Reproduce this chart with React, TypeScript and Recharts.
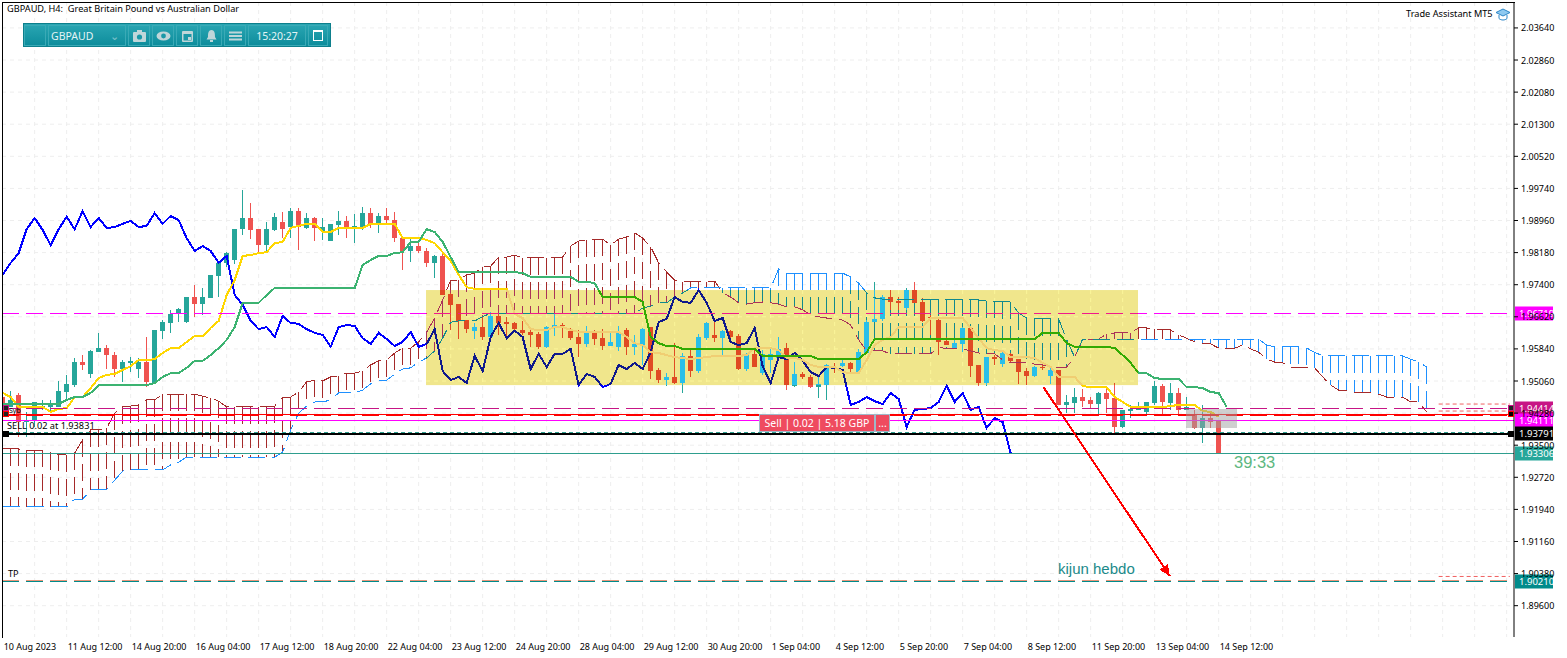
import React from 'react';
import { ComposedChart, Bar, Line, XAxis, YAxis, CartesianGrid, ReferenceLine, ReferenceArea } from 'recharts';

// ---------- values ----------
const opens = [1.9467,1.9443,1.9472,1.9406,1.9411,1.9443,1.9443,1.9443,1.9479,1.9496,1.9552,1.9523,1.9576,1.9586,1.9569,1.9535,1.9550,1.9535,1.9552,1.9501,1.9628,1.9647,1.9669,1.9649,1.9710,1.9693,1.9708,1.9761,1.9793,1.9800,1.9875,1.9902,1.9875,1.9836,1.9873,1.9892,1.9880,1.9919,1.9878,1.9902,1.9871,1.9846,1.9885,1.9895,1.9880,1.9880,1.9914,1.9888,1.9907,1.9897,1.9853,1.9822,1.9834,1.9822,1.9793,1.9810,1.9717,1.9693,1.9654,1.9628,1.9637,1.9613,1.9664,1.9649,1.9647,1.9630,1.9625,1.9620,1.9589,1.9637,1.9642,1.9628,1.9613,1.9596,1.9623,1.9610,1.9591,1.9589,1.9630,1.9589,1.9593,1.9637,1.9533,1.9508,1.9516,1.9501,1.9567,1.9530,1.9610,1.9618,1.9610,1.9628,1.9615,1.9535,1.9572,1.9525,1.9557,1.9562,1.9586,1.9494,1.9523,1.9516,1.9491,1.9496,1.9538,1.9542,1.9550,1.9528,1.9574,1.9649,1.9657,1.9710,1.9700,1.9683,1.9727,1.9698,1.9662,1.9654,1.9603,1.9584,1.9596,1.9635,1.9545,1.9501,1.9564,1.9547,1.9572,1.9559,1.9530,1.9518,1.9540,1.9518,1.9533,1.9448,1.9452,1.9467,1.9460,1.9450,1.9477,1.9465,1.9394,1.9433,1.9436,1.9431,1.9452,1.9494,1.9452,1.9477,1.9436,1.9426,1.9392,1.9416,1.9409];
const closes = [1.9443,1.9460,1.9406,1.9411,1.9455,1.9445,1.9450,1.9482,1.9499,1.9552,1.9545,1.9579,1.9586,1.9569,1.9535,1.9552,1.9555,1.9552,1.9504,1.9630,1.9649,1.9669,1.9681,1.9710,1.9693,1.9710,1.9764,1.9793,1.9817,1.9875,1.9902,1.9873,1.9836,1.9875,1.9905,1.9875,1.9919,1.9880,1.9902,1.9878,1.9880,1.9888,1.9895,1.9880,1.9883,1.9914,1.9888,1.9907,1.9897,1.9853,1.9822,1.9834,1.9822,1.9793,1.9810,1.9715,1.9691,1.9652,1.9632,1.9637,1.9613,1.9664,1.9647,1.9645,1.9632,1.9623,1.9618,1.9589,1.9637,1.9642,1.9640,1.9610,1.9596,1.9623,1.9608,1.9591,1.9601,1.9625,1.9589,1.9596,1.9632,1.9530,1.9508,1.9516,1.9501,1.9567,1.9530,1.9613,1.9647,1.9610,1.9628,1.9613,1.9535,1.9572,1.9540,1.9572,1.9572,1.9584,1.9496,1.9523,1.9516,1.9491,1.9499,1.9545,1.9535,1.9550,1.9535,1.9576,1.9649,1.9657,1.9710,1.9698,1.9696,1.9727,1.9696,1.9652,1.9659,1.9601,1.9593,1.9598,1.9635,1.9542,1.9501,1.9564,1.9559,1.9574,1.9555,1.9528,1.9518,1.9540,1.9538,1.9533,1.9448,1.9455,1.9467,1.9457,1.9450,1.9477,1.9462,1.9394,1.9436,1.9438,1.9440,1.9455,1.9494,1.9455,1.9477,1.9436,1.9443,1.9392,1.9416,1.9406,1.9331];
const highs = [1.9467,1.9482,1.9477,1.9431,1.9455,1.9460,1.9460,1.9506,1.9521,1.9562,1.9569,1.9581,1.9623,1.9593,1.9576,1.9557,1.9564,1.9562,1.9613,1.9630,1.9654,1.9679,1.9683,1.9710,1.9739,1.9732,1.9764,1.9793,1.9819,1.9875,1.9970,1.9939,1.9875,1.9892,1.9914,1.9917,1.9926,1.9926,1.9914,1.9905,1.9902,1.9888,1.9919,1.9907,1.9912,1.9929,1.9926,1.9914,1.9926,1.9917,1.9856,1.9856,1.9849,1.9829,1.9812,1.9817,1.9720,1.9693,1.9654,1.9647,1.9662,1.9674,1.9671,1.9662,1.9649,1.9652,1.9630,1.9625,1.9640,1.9671,1.9647,1.9635,1.9630,1.9640,1.9630,1.9632,1.9623,1.9640,1.9635,1.9618,1.9635,1.9637,1.9538,1.9525,1.9598,1.9574,1.9581,1.9620,1.9649,1.9659,1.9630,1.9630,1.9620,1.9574,1.9589,1.9581,1.9586,1.9613,1.9598,1.9552,1.9528,1.9521,1.9521,1.9547,1.9550,1.9557,1.9552,1.9584,1.9654,1.9747,1.9715,1.9727,1.9710,1.9732,1.9747,1.9708,1.9666,1.9659,1.9613,1.9610,1.9637,1.9635,1.9545,1.9564,1.9569,1.9576,1.9574,1.9559,1.9538,1.9542,1.9545,1.9540,1.9533,1.9472,1.9489,1.9486,1.9467,1.9479,1.9494,1.9501,1.9436,1.9448,1.9455,1.9455,1.9506,1.9499,1.9501,1.9489,1.9467,1.9436,1.9448,1.9428,1.9409];
const lows = [1.9443,1.9443,1.9370,1.9370,1.9394,1.9436,1.9428,1.9443,1.9460,1.9491,1.9533,1.9513,1.9576,1.9535,1.9516,1.9504,1.9528,1.9513,1.9491,1.9501,1.9608,1.9623,1.9649,1.9647,1.9662,1.9666,1.9708,1.9710,1.9783,1.9790,1.9861,1.9851,1.9819,1.9819,1.9871,1.9853,1.9853,1.9824,1.9875,1.9846,1.9849,1.9846,1.9861,1.9853,1.9841,1.9873,1.9878,1.9866,1.9890,1.9844,1.9776,1.9795,1.9817,1.9783,1.9756,1.9715,1.9630,1.9608,1.9623,1.9608,1.9606,1.9613,1.9618,1.9615,1.9625,1.9618,1.9589,1.9584,1.9586,1.9615,1.9610,1.9606,1.9564,1.9589,1.9593,1.9581,1.9591,1.9579,1.9569,1.9569,1.9545,1.9511,1.9501,1.9494,1.9499,1.9477,1.9516,1.9525,1.9606,1.9601,1.9569,1.9606,1.9533,1.9530,1.9540,1.9521,1.9525,1.9557,1.9484,1.9491,1.9511,1.9489,1.9465,1.9460,1.9525,1.9540,1.9528,1.9525,1.9574,1.9649,1.9652,1.9679,1.9679,1.9679,1.9696,1.9649,1.9618,1.9569,1.9593,1.9584,1.9576,1.9516,1.9494,1.9494,1.9545,1.9540,1.9552,1.9499,1.9496,1.9516,1.9533,1.9499,1.9448,1.9428,1.9428,1.9443,1.9440,1.9423,1.9428,1.9380,1.9392,1.9416,1.9436,1.9423,1.9448,1.9423,1.9436,1.9423,1.9436,1.9389,1.9355,1.9392,1.9328];
const tenkan = [1.9477,1.9467,1.9443,1.9443,1.9443,1.9443,1.9431,1.9438,1.9440,1.9467,1.9467,1.9489,1.9513,1.9521,1.9523,1.9533,1.9542,1.9557,1.9557,1.9559,1.9574,1.9586,1.9586,1.9601,1.9615,1.9615,1.9635,1.9652,1.9715,1.9751,1.9810,1.9812,1.9817,1.9819,1.9841,1.9844,1.9878,1.9883,1.9888,1.9888,1.9868,1.9868,1.9878,1.9878,1.9878,1.9878,1.9888,1.9888,1.9888,1.9888,1.9853,1.9853,1.9853,1.9849,1.9841,1.9819,1.9798,1.9764,1.9734,1.9730,1.9730,1.9730,1.9730,1.9730,1.9669,1.9659,1.9632,1.9630,1.9630,1.9637,1.9637,1.9630,1.9625,1.9625,1.9625,1.9625,1.9625,1.9625,1.9613,1.9598,1.9593,1.9576,1.9574,1.9569,1.9564,1.9562,1.9559,1.9562,1.9564,1.9567,1.9567,1.9567,1.9567,1.9569,1.9586,1.9586,1.9586,1.9581,1.9562,1.9562,1.9557,1.9545,1.9540,1.9540,1.9540,1.9528,1.9525,1.9525,1.9557,1.9593,1.9606,1.9613,1.9637,1.9637,1.9637,1.9637,1.9659,1.9659,1.9659,1.9659,1.9659,1.9635,1.9610,1.9586,1.9581,1.9579,1.9564,1.9564,1.9564,1.9562,1.9550,1.9540,1.9516,1.9516,1.9516,1.9494,1.9491,1.9491,1.9491,1.9467,1.9455,1.9443,1.9443,1.9443,1.9443,1.9443,1.9445,1.9448,1.9448,1.9448,1.9433,1.9431,1.9419];
const kijun = [1.9450,1.9450,1.9450,1.9450,1.9450,1.9450,1.9450,1.9450,1.9460,1.9467,1.9467,1.9477,1.9496,1.9496,1.9496,1.9496,1.9496,1.9496,1.9496,1.9501,1.9516,1.9525,1.9525,1.9538,1.9555,1.9555,1.9569,1.9586,1.9606,1.9637,1.9696,1.9696,1.9696,1.9715,1.9732,1.9732,1.9732,1.9732,1.9732,1.9732,1.9732,1.9732,1.9732,1.9732,1.9732,1.9788,1.9800,1.9810,1.9810,1.9817,1.9819,1.9844,1.9844,1.9875,1.9868,1.9844,1.9807,1.9771,1.9771,1.9771,1.9771,1.9771,1.9771,1.9771,1.9771,1.9768,1.9759,1.9759,1.9759,1.9759,1.9759,1.9759,1.9747,1.9747,1.9744,1.9710,1.9710,1.9710,1.9710,1.9710,1.9698,1.9613,1.9598,1.9591,1.9591,1.9584,1.9584,1.9584,1.9584,1.9584,1.9584,1.9584,1.9584,1.9584,1.9584,1.9567,1.9567,1.9567,1.9567,1.9567,1.9567,1.9567,1.9559,1.9559,1.9559,1.9559,1.9559,1.9559,1.9576,1.9608,1.9608,1.9608,1.9608,1.9608,1.9608,1.9608,1.9608,1.9608,1.9608,1.9608,1.9608,1.9608,1.9608,1.9608,1.9608,1.9608,1.9608,1.9608,1.9608,1.9608,1.9623,1.9623,1.9623,1.9598,1.9589,1.9589,1.9589,1.9589,1.9589,1.9586,1.9569,1.9550,1.9525,1.9525,1.9513,1.9511,1.9511,1.9511,1.9491,1.9491,1.9489,1.9479,1.9477,1.9443];
const chikou = [1.9764,1.9793,1.9817,1.9875,1.9902,1.9873,1.9836,1.9875,1.9905,1.9875,1.9919,1.9880,1.9902,1.9878,1.9880,1.9888,1.9895,1.9880,1.9883,1.9914,1.9888,1.9907,1.9897,1.9853,1.9822,1.9834,1.9822,1.9793,1.9810,1.9715,1.9691,1.9652,1.9632,1.9637,1.9613,1.9664,1.9647,1.9645,1.9632,1.9623,1.9618,1.9589,1.9637,1.9642,1.9640,1.9610,1.9596,1.9623,1.9608,1.9591,1.9601,1.9625,1.9589,1.9596,1.9632,1.9530,1.9508,1.9516,1.9501,1.9567,1.9530,1.9613,1.9647,1.9610,1.9628,1.9613,1.9535,1.9572,1.9540,1.9572,1.9572,1.9584,1.9496,1.9523,1.9516,1.9491,1.9499,1.9545,1.9535,1.9550,1.9535,1.9576,1.9649,1.9657,1.9710,1.9698,1.9696,1.9727,1.9696,1.9652,1.9659,1.9601,1.9593,1.9598,1.9635,1.9542,1.9501,1.9564,1.9559,1.9574,1.9555,1.9528,1.9518,1.9540,1.9538,1.9533,1.9448,1.9455,1.9467,1.9457,1.9450,1.9477,1.9462,1.9394,1.9436,1.9438,1.9440,1.9455,1.9494,1.9455,1.9477,1.9436,1.9443,1.9392,1.9416,1.9406,1.9331];
const senkouBrown = [1.9341,1.9341,1.9341,1.9338,1.9338,1.9338,1.9331,1.9328,1.9326,1.9331,1.9363,1.9387,1.9387,1.9392,1.9428,1.9443,1.9445,1.9448,1.9460,1.9460,1.9474,1.9474,1.9474,1.9474,1.9474,1.9469,1.9465,1.9457,1.9443,1.9443,1.9443,1.9443,1.9443,1.9443,1.9445,1.9467,1.9467,1.9479,1.9504,1.9508,1.9506,1.9516,1.9518,1.9525,1.9525,1.9530,1.9545,1.9555,1.9557,1.9574,1.9586,1.9586,1.9601,1.9625,1.9659,1.9703,1.9751,1.9751,1.9764,1.9768,1.9783,1.9785,1.9807,1.9807,1.9812,1.9805,1.9805,1.9805,1.9805,1.9805,1.9807,1.9834,1.9846,1.9849,1.9849,1.9851,1.9836,1.9851,1.9856,1.9866,1.9853,1.9832,1.9793,1.9771,1.9751,1.9747,1.9747,1.9747,1.9747,1.9749,1.9720,1.9710,1.9696,1.9693,1.9696,1.9698,1.9696,1.9693,1.9686,1.9686,1.9679,1.9666,1.9662,1.9659,1.9657,1.9654,1.9642,1.9606,1.9579,1.9579,1.9579,1.9572,1.9572,1.9572,1.9572,1.9572,1.9572,1.9589,1.9584,1.9584,1.9584,1.9579,1.9574,1.9572,1.9572,1.9557,1.9550,1.9550,1.9550,1.9547,1.9545,1.9540,1.9540,1.9540,1.9564,1.9606,1.9606,1.9608,1.9620,1.9623,1.9623,1.9623,1.9635,1.9635,1.9632,1.9632,1.9630,1.9618,1.9610,1.9601,1.9598,1.9596,1.9586,1.9586,1.9586,1.9593,1.9584,1.9576,1.9559,1.9552,1.9550,1.9540,1.9540,1.9538,1.9538,1.9516,1.9496,1.9484,1.9484,1.9477,1.9477,1.9477,1.9474,1.9467,1.9467,1.9467,1.9455,1.9455,1.9431];
const senkouBlue = [1.9200,1.9200,1.9200,1.9200,1.9200,1.9200,1.9200,1.9200,1.9200,1.9219,1.9219,1.9241,1.9243,1.9243,1.9265,1.9287,1.9290,1.9290,1.9290,1.9290,1.9290,1.9302,1.9309,1.9321,1.9321,1.9321,1.9321,1.9321,1.9321,1.9321,1.9321,1.9321,1.9321,1.9321,1.9321,1.9333,1.9387,1.9428,1.9445,1.9455,1.9455,1.9460,1.9477,1.9477,1.9477,1.9484,1.9499,1.9506,1.9508,1.9523,1.9535,1.9538,1.9552,1.9562,1.9579,1.9610,1.9649,1.9652,1.9652,1.9652,1.9662,1.9671,1.9671,1.9671,1.9671,1.9671,1.9671,1.9671,1.9671,1.9671,1.9671,1.9671,1.9671,1.9671,1.9671,1.9671,1.9671,1.9671,1.9671,1.9671,1.9683,1.9688,1.9696,1.9696,1.9710,1.9720,1.9732,1.9732,1.9732,1.9732,1.9732,1.9732,1.9732,1.9732,1.9732,1.9732,1.9732,1.9778,1.9768,1.9768,1.9768,1.9768,1.9768,1.9768,1.9768,1.9768,1.9759,1.9744,1.9720,1.9708,1.9705,1.9705,1.9705,1.9705,1.9705,1.9705,1.9705,1.9705,1.9705,1.9705,1.9705,1.9703,1.9703,1.9700,1.9700,1.9698,1.9698,1.9671,1.9659,1.9657,1.9657,1.9657,1.9657,1.9606,1.9564,1.9608,1.9608,1.9608,1.9608,1.9608,1.9608,1.9608,1.9608,1.9608,1.9608,1.9608,1.9608,1.9608,1.9608,1.9608,1.9608,1.9608,1.9608,1.9608,1.9608,1.9608,1.9608,1.9608,1.9593,1.9589,1.9589,1.9589,1.9589,1.9586,1.9576,1.9567,1.9567,1.9567,1.9567,1.9567,1.9567,1.9567,1.9567,1.9567,1.9567,1.9567,1.9559,1.9552,1.9540];
const xTickLabels = ['10 Aug 2023','11 Aug 12:00','14 Aug 20:00','16 Aug 04:00','17 Aug 12:00','18 Aug 20:00','22 Aug 04:00','23 Aug 12:00','24 Aug 20:00','28 Aug 04:00','29 Aug 12:00','30 Aug 20:00','1 Sep 04:00','4 Sep 12:00','5 Sep 20:00','7 Sep 04:00','8 Sep 12:00','11 Sep 20:00','13 Sep 04:00','14 Sep 12:00'];
const xTicks = [0,8,16,24,32,40,48,56,64,72,80,88,96,104,112,120,128,136,144,152];
const xGridValues = [4,8,12,16,20,24,28,32,36,40,44,48,52,56,60,64,68,72,76,80,84,88,92,96,100,104,108,112,116,120,124,128,132,136,140,144,148,152,156,160,164,168,172,176,180,184,188];
const yTicks = [2.0364,2.0286,2.0208,2.013,2.0052,1.9974,1.9896,1.9818,1.974,1.9662,1.9584,1.9506,1.9428,1.935,1.9272,1.9194,1.9116,1.9038,1.896];

const xDomain: [number, number] = [-0.084, 188.92];
const yDomain: [number, number] = [1.88839, 2.0427];
const zone = { x1: 52.92, x2: 141.92, top: 1.9727, bottom: 1.9496 };
const arrow = { x1: 130.1, y1: 1.9491, x2: 145.9, y2: 1.9032 };

// ---------- layout and palette ----------
const W = 1567, H = 658, L = 2, T = 2, PW = 1512, PH = 635;
const sx = (v: number) => L + ((v - xDomain[0]) / (xDomain[1] - xDomain[0])) * PW;
const sy = (v: number) => T + ((yDomain[1] - v) / (yDomain[1] - yDomain[0])) * PH;
const zx = sx(zone.x1), zw = sx(zone.x2) - zx, zy = sy(zone.top), zh = sy(zone.bottom) - zy;

const OUT = 'url(#outsideZone)', IN = 'url(#insideZone)';
const BULL = '#26A69A', BEAR = '#EF5350', BULLX = '#29BFE9', BEARX = '#E04A23';
const BROWN = '#A52A2A', BROWNX = '#AA3359', SKY = '#1E90FF', SKYX = '#11898C';
const UI = '"Noto Sans", Tahoma, sans-serif';
const DASH = '17 7';

const rows = Array.from({ length: 179 }, (_, i) => ({
  i,
  open: opens[i], high: highs[i], low: lows[i], close: closes[i],
  tenkan: tenkan[i], kijun: kijun[i], chikou: chikou[i],
  senkouBrown: senkouBrown[i], senkouBlue: senkouBlue[i],
}));

const Candle = (p: any) => {
  const d = p.payload;
  if (d == null || d.open == null || !(p.height >= 0)) return null;
  const cx = Math.round(p.x + p.width / 2);
  const span = d.high - d.low || 1;
  const at = (v: number) => p.y + ((d.high - v) / span) * p.height;
  const top = at(Math.max(d.open, d.close));
  const bot = at(Math.min(d.open, d.close));
  const up = d.close >= d.open;
  const draw = (color: string, clip: string) => (
    <g clipPath={clip} shapeRendering="crispEdges">
      <rect x={cx} y={p.y} width={1} height={Math.max(p.height, 1)} fill={color} />
      <rect x={cx - 2} y={top} width={5} height={Math.max(bot - top, 1)} fill={color} />
    </g>
  );
  return <g>{draw(up ? BULL : BEAR, OUT)}{draw(up ? BULLX : BEARX, IN)}</g>;
};

const Hatch = (p: any) => {
  const d = p.payload;
  if (d == null || !(p.height >= 0)) return null;
  const cx = Math.round(p.x + p.width / 2) + 0.5;
  const brownTop = d.senkouBrown > d.senkouBlue;
  const r = (stroke: string, clip: string) => (
    <g clipPath={clip}>
      <line x1={cx} x2={cx} y1={p.y} y2={p.y + p.height} stroke={stroke} strokeDasharray={DASH} shapeRendering="crispEdges" />
    </g>
  );
  return <g>{r(brownTop ? BROWN : SKY, OUT)}{r(brownTop ? BROWNX : SKYX, IN)}</g>;
};

const ZoneShape = (p: any) => {
  const gx = xGridValues.filter((v) => v > zone.x1 && v < zone.x2);
  const gy = yTicks.filter((v) => v < zone.top && v > zone.bottom);
  return (
    <g>
      <rect x={p.x} y={p.y} width={p.width} height={p.height} fill="#F0E68C" />
      {gx.map((v) => (
        <line key={v} x1={sx(v)} x2={sx(v)} y1={p.y} y2={p.y + p.height} stroke="#FBF59A" strokeDasharray="4 4" />
      ))}
      {gy.map((v) => (
        <line key={v} y1={sy(v)} y2={sy(v)} x1={p.x} x2={p.x + p.width} stroke="#FBF59A" strokeDasharray="4 4" />
      ))}
    </g>
  );
};

const level = (price: number, color: string, opts: { inside?: string; dash?: string; width?: number; tag?: string; tagColor?: string; }) => (
  <ReferenceLine
    key={`${price}-${color}-${opts.dash || ''}`}
    xAxisId="main"
    y={price}
    stroke={color}
    shape={(p: any) => {
      const a = Math.min(p.x1, p.x2), b = Math.max(p.x1, p.x2);
      const yy = Math.round(p.y1) + 0.5;
      const ln = (c: string, clip?: string) => (
        <g clipPath={clip}>
          <line x1={a} x2={b} y1={yy} y2={yy} stroke={c} strokeWidth={opts.width || 1} strokeDasharray={opts.dash} shapeRendering="crispEdges" />
        </g>
      );
      return (
        <g>
          {opts.inside ? <>{ln(color, OUT)}{ln(opts.inside, IN)}</> : ln(color)}
          {opts.tag ? (
            <g>
              <rect x={b + 1} y={yy - 7} width={38} height={14} fill={opts.tagColor || color} />
              <text x={b + 5} y={yy + 3.5} fontSize={9.5} fontFamily={UI} fill="#fff">{opts.tag}</text>
            </g>
          ) : null}
        </g>
      );
    }}
  />
);

const stub = (price: number, color: string) => (
  <ReferenceLine
    key={`stub-${price}`}
    xAxisId="main"
    segment={[{ x: 179.5, y: price }, { x: 188.4, y: price }]}
    stroke={color}
    strokeWidth={1}
    strokeDasharray="4 3"
  />
);

const Arrow = (p: any) => {
  const { x1, y1, x2, y2 } = p;
  const a = Math.atan2(y2 - y1, x2 - x1);
  const hx = (s: number) => x2 - 11 * Math.cos(a) + s * 5 * Math.sin(a);
  const hy = (s: number) => y2 - 11 * Math.sin(a) - s * 5 * Math.cos(a);
  return (
    <g shapeRendering="crispEdges">
      <line x1={x1} y1={y1} x2={x2} y2={y2} stroke="#FF0000" strokeWidth={2} />
      <polygon points={`${x2},${y2} ${hx(1)},${hy(1)} ${hx(-1)},${hy(-1)}`} fill="#FF0000" />
    </g>
  );
};

const two = (key: string, color: string, xor: string, width: number, dash?: string) => [
  <Line key={`${key}-o`} className="outz" dataKey={key} xAxisId="main" stroke={color} strokeWidth={width} strokeDasharray={dash} dot={false} activeDot={false} isAnimationActive={false} legendType="none" />,
  <Line key={`${key}-i`} className="inz" dataKey={key} xAxisId="main" stroke={xor} strokeWidth={width} strokeDasharray={dash} dot={false} activeDot={false} isAnimationActive={false} legendType="none" />,
];

const abs = (x: number, y: number, extra: React.CSSProperties = {}): React.CSSProperties => ({
  position: 'absolute', left: x, top: y, whiteSpace: 'pre', fontFamily: UI, fontSize: 9.2, color: '#000', lineHeight: 1, pointerEvents: 'none', ...extra,
});

const tbBtn = (x: number, w: number, child?: React.ReactNode) => (
  <div key={x} style={{ position: 'absolute', left: x, top: 1, width: w, height: 21, border: '1px solid #3aaab6', boxSizing: 'border-box', display: 'flex', alignItems: 'center', justifyContent: 'center', color: '#e4f4f6', fontFamily: UI, fontSize: 10.5 }}>{child}</div>
);

const ico = (children: React.ReactNode) => <svg width="15" height="14" viewBox="0 0 15 14" fill="#bfd6d9">{children}</svg>;

const Toolbar = () => (
  <div style={{ position: 'absolute', left: 23, top: 23, width: 308, height: 24, background: 'linear-gradient(#2aa6b3,#0d8c9b)', border: '1px solid #0d7f8c', boxSizing: 'border-box' }}>
    {tbBtn(0, 22)}
    {tbBtn(24, 78, <div style={{ width: '100%', paddingLeft: 2, display: 'flex', justifyContent: 'space-between', paddingRight: 6, boxSizing: 'border-box' }}><span>GBPAUD</span><span style={{ opacity: 0.5 }}>⌄</span></div>)}
    {tbBtn(104, 22, ico(<><rect x="1" y="3" width="13" height="10" rx="1" /><circle cx="7.5" cy="8" r="2.6" fill="#1a98a7" /><rect x="5" y="1" width="5" height="2" /></>))}
    {tbBtn(128, 22, ico(<><ellipse cx="7.5" cy="7" rx="7" ry="4.5" /><circle cx="7.5" cy="7" r="2.4" fill="#1a98a7" /></>))}
    {tbBtn(152, 22, ico(<><rect x="2" y="2" width="11" height="11" rx="1" /><rect x="3.5" y="5" width="8" height="6.5" fill="#1a98a7" /><rect x="8" y="8" width="3" height="3" /></>))}
    {tbBtn(176, 22, ico(<><path d="M7.5 1 C4 1 4 5 4 8 L2.5 10.5 H12.5 L11 8 C11 5 11 1 7.5 1Z" /><rect x="6" y="11" width="3" height="2" /></>))}
    {tbBtn(200, 22, ico(<><rect x="1" y="2.5" width="13" height="2" /><rect x="1" y="6" width="13" height="2" /><rect x="1" y="9.5" width="13" height="2" /></>))}
    {tbBtn(224, 58, '15:20:27')}
    {tbBtn(284, 20, <div style={{ width: 8, height: 8, border: '1.5px solid #fff', borderTopWidth: 2.5 }} />)}
  </div>
);

const square = (x: number, y: number, bg: string, edge: string) => (
  <div key={`${x}-${y}`} style={{ position: 'absolute', left: x, top: y, width: 6, height: 6, boxSizing: 'border-box', background: bg, border: `1px solid ${edge}`, pointerEvents: 'none' }} />
);

export default function App() {
  return (
    <div style={{ position: 'absolute', left: 0, top: 0, width: W, height: H, background: '#fff', overflow: 'hidden' }}>
      <style>{`.inz, .inz path { clip-path: url(#insideZone); } .outz, .outz path { clip-path: url(#outsideZone); } .inz path, .outz path { shape-rendering: crispEdges; }`}</style>
      <ComposedChart width={W} height={H} data={rows} margin={{ top: T, left: L, right: 0, bottom: 0 }}>
        <defs>
          <clipPath id="insideZone"><rect x={zx} y={zy} width={zw} height={zh} /></clipPath>
          <clipPath id="outsideZone"><path clipRule="evenodd" d={`M0 0H${W}V${H}H0Z M${zx} ${zy}H${zx + zw}V${zy + zh}H${zx}Z`} /></clipPath>
        </defs>
        <CartesianGrid stroke="#eeeeee" strokeDasharray="4 4" verticalValues={xGridValues} horizontalValues={yTicks} xAxisId="main" />
        <XAxis
          xAxisId="main" dataKey="i" type="number" domain={xDomain} allowDataOverflow ticks={xTicks} height={21} interval={0}
          stroke="#000" tickSize={4} tickLine={{ stroke: '#000' }} axisLine={{ stroke: '#000' }}
          tick={(p: any) => (
            <text x={p.x + 1} y={650} fontSize={9} fontFamily={UI} fill="#000">{xTickLabels[xTicks.indexOf(p.payload.value)]}</text>
          )}
        />
        <XAxis xAxisId="cloud" dataKey="i" type="number" domain={xDomain} allowDataOverflow hide />
        <YAxis
          orientation="right" width={53} type="number" domain={yDomain} allowDataOverflow ticks={yTicks} interval={0}
          stroke="#000" tickSize={4} tickLine={{ stroke: '#000' }} axisLine={{ stroke: '#000' }}
          tick={(p: any) => (
            <text x={p.x + 1} y={p.y + 3.5} fontSize={9} fontFamily={UI} fill="#000">{p.payload.value.toFixed(5)}</text>
          )}
        />
        <ReferenceArea xAxisId="main" x1={zone.x1} x2={zone.x2} y1={zone.bottom} y2={zone.top} shape={ZoneShape} />
        <Bar xAxisId="cloud" dataKey={(d: any) => [Math.min(d.senkouBrown, d.senkouBlue), Math.max(d.senkouBrown, d.senkouBlue)]} barSize={1} shape={Hatch} isAnimationActive={false} legendType="none" />
        {two('senkouBrown', BROWN, BROWNX, 1, DASH)}
        {two('senkouBlue', SKY, SKYX, 1, DASH)}
        <Bar xAxisId="main" dataKey={(d: any) => (d.high == null ? null : [d.low, d.high])} barSize={5} shape={Candle} isAnimationActive={false} legendType="none" />
        {two('chikou', '#0000FF', '#0F198C', 2)}
        {two('tenkan', '#FFD700', '#F0CE73', 2)}
        {two('kijun', '#3CB371', '#33AA02', 2)}
        {level(1.96719, '#FF00FF', { inside: '#F0198C', dash: DASH, tag: '1.96719' })}
        {level(1.94414, '#C71585', { dash: DASH, tag: '1.94414' })}
        {level(1.94253, '#FF0000', {})}
        {level(1.94253, '#FF0000', { dash: DASH, width: 2 })}
        {level(1.94111, '#FF00FF', { tag: '1.94111' })}
        {level(1.93831, '#2E9E8E', { dash: '4 3' })}
        {level(1.93791, '#000000', { width: 2, tag: '1.93791' })}
        {level(1.93306, '#2E9E8E', { tag: '1.93306', tagColor: '#26A69A' })}
        {level(1.90224, '#E9967A', { dash: DASH })}
        {level(1.9021, '#008B8B', { dash: DASH, tag: '1.90210' })}
        {stub(1.945, '#F06060')}
        {stub(1.9433, '#F06060')}
        {stub(1.9031, '#F06060')}
        <ReferenceLine xAxisId="main" segment={[{ x: arrow.x1, y: arrow.y1 }, { x: arrow.x2, y: arrow.y2 }]} stroke="#FF0000" shape={Arrow} />
      </ComposedChart>

      <div style={{ position: 'absolute', left: 2, top: 2, width: 1513, height: 636, border: '1px solid #000', borderRightWidth: 0, borderBottomWidth: 0, boxSizing: 'border-box', pointerEvents: 'none' }} />
      <div style={{ position: 'absolute', left: 1186, top: 409, width: 51, height: 19, background: 'rgba(160,160,160,0.5)', pointerEvents: 'none' }} />
      <div style={abs(7, 4)}>GBPAUD, H4:  Great Britain Pound vs Australian Dollar</div>
      <div style={abs(1406, 9)}>Trade Assistant MT5</div>
      <svg style={{ position: 'absolute', left: 1495, top: 8 }} width="16" height="14" viewBox="0 0 16 14">
        <path d="M8 1 L15 4.5 L8 8 L1 4.5Z" fill="#8ec9f0" stroke="#2b86c8" />
        <path d="M4 7 V10.5 C6 12.5 10 12.5 12 10.5 V7" fill="none" stroke="#2b86c8" />
      </svg>
      <Toolbar />
      <div style={abs(9, 407, { fontSize: 7 })}>Syb</div>
      <div style={abs(7, 421)}>SELL 0.02 at 1.93831</div>
      <div style={abs(8, 569)}>TP</div>
      {square(3, 405, '#222', '#C71585')}
      {square(3, 411, '#222', '#FF0000')}
      {square(3, 431, '#000', '#000')}
      {square(1508, 405, '#222', '#C71585')}
      {square(1508, 411, '#000', '#FF0000')}
      {square(1508, 431, '#000', '#000')}
      <div style={{ position: 'absolute', left: 759, top: 414, width: 116, height: 18, background: '#EF4B5F', border: '1px solid #9fb8c8', boxSizing: 'border-box', color: '#fff', fontFamily: UI, fontSize: 10.5, textAlign: 'center', lineHeight: '16px', pointerEvents: 'none' }}>Sell | 0.02 | 5.18 GBP</div>
      <div style={{ position: 'absolute', left: 875, top: 414, width: 15, height: 18, background: '#EF4B5F', border: '1px solid #9fb8c8', boxSizing: 'border-box', color: '#fff', fontFamily: UI, fontSize: 10.5, textAlign: 'center', lineHeight: '16px', pointerEvents: 'none' }}>...</div>
      <div style={abs(1058, 561, { fontFamily: '"Liberation Sans", sans-serif', fontSize: 15, color: '#1B8A8A' })}>kijun hebdo</div>
      <div style={abs(1234, 454, { fontFamily: '"Liberation Sans", sans-serif', fontSize: 16.5, color: '#5DB77F' })}>39:33</div>
    </div>
  );
}
